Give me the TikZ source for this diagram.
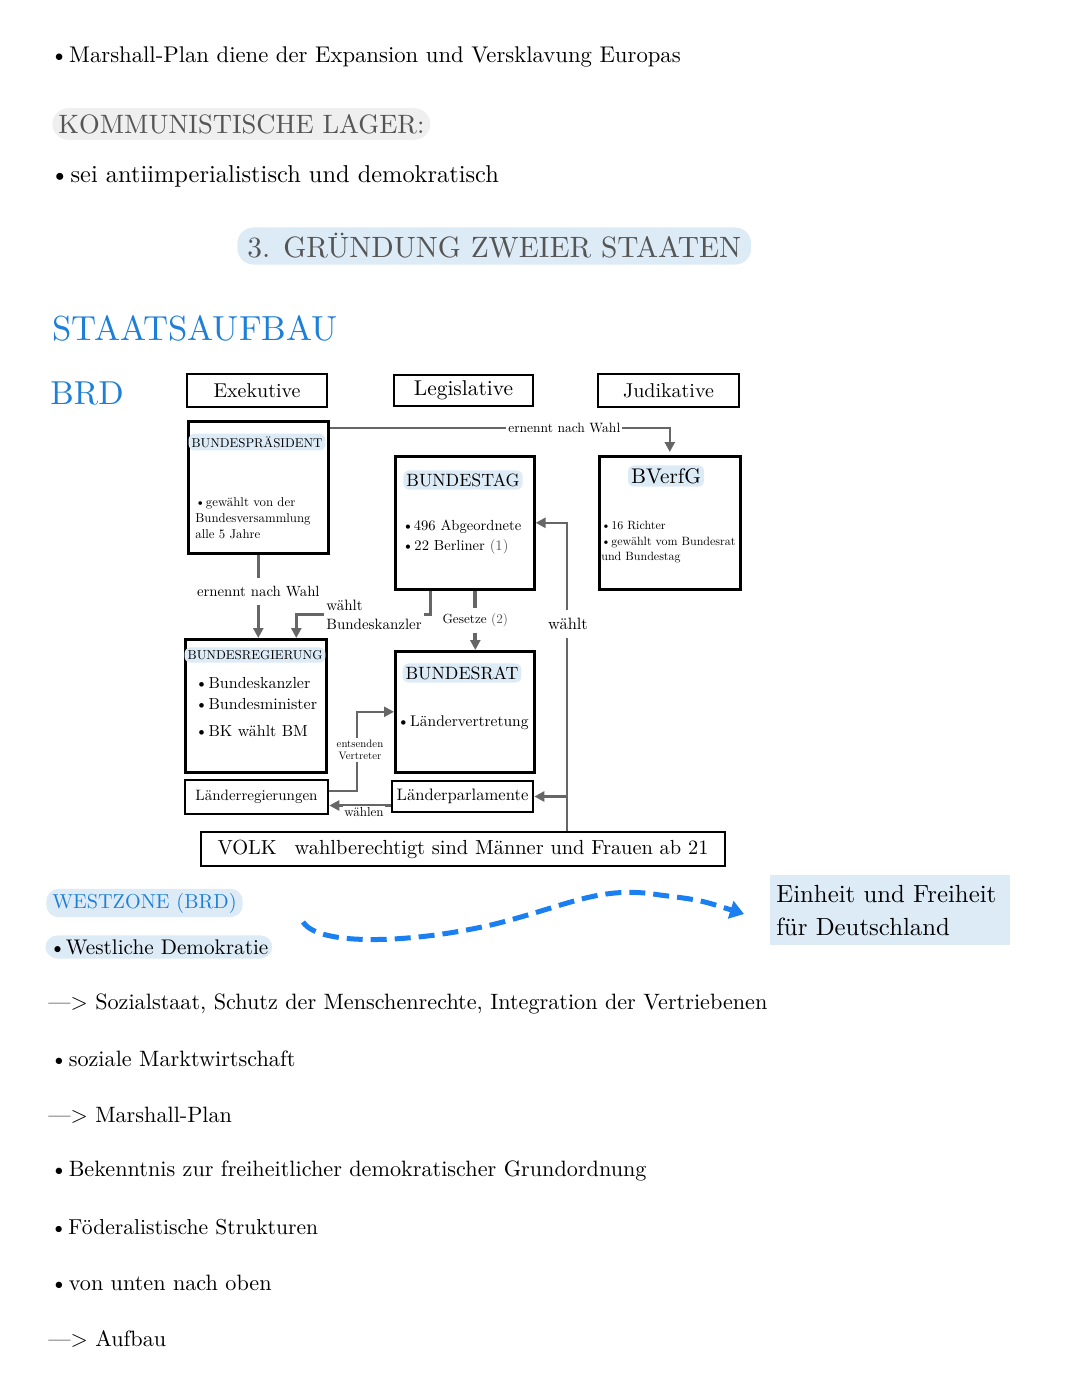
\documentclass[tikz,border=0pt]{standalone}
\usepackage{fontspec}
\setmainfont{lmroman10-regular.otf}
\usetikzlibrary{positioning, arrows.meta}
\definecolor{hlblue}{HTML}{DDEBF7}
\definecolor{hlgray}{HTML}{EFEFEF}
\definecolor{txtgray}{HTML}{555555}
\definecolor{headblue}{HTML}{1E7FD8}
\definecolor{linegray}{HTML}{666666}
\definecolor{dashblue}{HTML}{1A7FF0}
\newcommand{\fsz}[1]{\fontsize{#1}{#1}\selectfont}
\newcommand{\bul}{•\hspace{0.05em}}

\begin{document}
\begin{tikzpicture}[x=0.5pt, y=-0.5pt,
    hdr/.style={draw, line width=1.3pt, minimum width=70pt, minimum height=16.5pt,
                inner sep=0pt, font=\fsz{10}},
    organ/.style={draw, line width=1.3pt, inner sep=0pt, anchor=north west},
    ttl/.style={fill=hlblue, rounded corners=3pt, inner sep=1.5pt},
    body/.style={align=left, anchor=north west, inner sep=0pt},
    arr/.style={-{Triangle[length=5pt,width=5pt]}, draw=linegray, line width=1.3pt},
    lbl/.style={fill=white, inner sep=1pt},
    note/.style={anchor=west, inner sep=0pt, font=\fsz{11.1}},
    smallbox/.style={draw, line width=1.3pt, inner sep=0pt, font=\fsz{7.5}}
]
\useasboundingbox (0,0) rectangle (1080,1394);

% Text above the diagram
\node[note, font=\fsz{11.35}] (marshall) at (50,57) {\bul Marshall-Plan diene der Expansion und Versklavung Europas};
\node[anchor=west, fill=hlgray, rounded corners=8pt, inner xsep=3pt, inner ysep=3pt,
      text=txtgray, font=\fsz{13.3}] (komm) at (52,124) {KOMMUNISTISCHE LAGER:};
\node[note, font=\fsz{12.2}] (anti) at (50,176) {\bul sei antiimperialistisch und demokratisch};
\node[anchor=west, fill=hlblue, rounded corners=8pt, inner xsep=5pt, inner ysep=3pt,
      text=txtgray, font=\fsz{14.7}] (gruend) at (237,246) {3. GRÜNDUNG ZWEIER STAATEN};
\node[anchor=west, inner sep=0pt, text=headblue, font=\fsz{17.4}] (aufbau) at (52,328) {STAATSAUFBAU};
\node[anchor=west, inner sep=0pt, text=headblue, font=\fsz{16.6}] (brd) at (50,394) {BRD};

% Gewalten
\node[hdr] (exe) at (257,390.5) {Exekutive};
\node[hdr, minimum width=69.5pt, minimum height=15.5pt, font=\fsz{10.7}] (leg) at (463.5,390.5) {Legislative};
\node[hdr, minimum width=70.5pt] (jud) at (668.5,390.5) {Judikative};

% Organe
\node[organ, minimum width=70pt, minimum height=66pt] (bp) at (187,420) {};
\node[ttl, font=\fsz{6.4}] (bpT) at (257,442) {BUNDESPRÄSIDENT};
\node[body, font=\fontsize{6.4}{8}\selectfont] (bpB) at (195,497) {\bul gewählt von der\\Bundesversammlung\\alle 5 Jahre};

\node[organ, minimum width=69.5pt, minimum height=66.5pt] (bt) at (394,455) {};
\node[ttl, font=\fsz{8.9}] (btT) at (463,480) {BUNDESTAG};
\node[body, font=\fontsize{7.3}{10}\selectfont] (btB) at (402,520) {•496 Abgeordnete\\\bul 22 Berliner \textcolor{txtgray}{(1)}};

\node[organ, minimum width=70.5pt, minimum height=66.5pt] (bvg) at (598,455) {};
\node[ttl, font=\fsz{10.6}] (bvgT) at (666,476) {BVerfG};
\node[body, font=\fontsize{6}{7.8}\selectfont] (bvgB) at (601,521) {\bul 16 Richter\\\bul gewählt vom Bundesrat\\und Bundestag};

\node[organ, minimum width=70.5pt, minimum height=66.5pt] (breg) at (184,638) {};
\node[ttl, font=\fsz{6.45}] (bregT) at (255,655) {BUNDESREGIERUNG};
\node[body, font=\fontsize{8}{10.5}\selectfont] (bregB) at (195,677) {\bul Bundeskanzler\\\bul Bundesminister\\[3pt]\bul BK wählt BM};

\node[organ, minimum width=69.5pt, minimum height=60.5pt] (br) at (394,650) {};
\node[ttl, font=\fsz{8.9}] (brT) at (462,673) {BUNDESRAT};
\node[anchor=west, inner sep=0pt, font=\fsz{7.75}] (brB) at (397,723) {\bul Ländervertretung};

\node[smallbox, minimum width=71.5pt, minimum height=17pt] (lr) at (256.5,797) {Länderregierungen};
\node[smallbox, minimum width=70.5pt, minimum height=15.5pt, font=\fsz{8.3}] (lp) at (462.5,796.5) {Länderparlamente};
\node[smallbox, minimum width=262pt, minimum height=17pt, font=\fsz{10.2}] (volk) at (463,849)
     {VOLK\hspace{9pt}wahlberechtigt sind Männer und Frauen ab 21};

% Verbindungen
\draw[arr, shorten >=1.5pt] ([yshift=-4pt]bp.north east) -- node[lbl, pos=0.69, font=\fsz{6.75}]{ernennt nach Wahl}
     ([yshift=-4pt]bp.north east -| bvg.north) -- (bvg.north);
\draw[arr] (bp.south) -- node[lbl, pos=0.44, inner ysep=4pt, font=\fsz{7.4}]{ernennt nach Wahl} (bp.south |- breg.north);
\draw[arr] ([xshift=-17.25pt]bt.south) -- ++(0,24) -| ([xshift=20.25pt]breg.north);
\node[lbl, anchor=west, align=left, font=\fontsize{7.5}{9.5}\selectfont] (wbk) at (324,615) {wählt\\Bundeskanzler};
\draw[arr, line width=2pt] ([xshift=5.25pt]bt.south) -- node[lbl, inner ysep=3pt, font=\fsz{6.6}]{Gesetze \textcolor{txtgray}{(2)}}
     ([xshift=5.25pt]bt.south |- br.north);
\coordinate (wk) at ([xshift=52pt]volk.north);
\draw[arr] (wk) |- (bt.east);
\draw[arr] (wk |- lp.east) -- (lp.east);
\node[lbl, inner ysep=4pt, font=\fsz{8.2}] (wae) at (568,624) {wählt};
\coordinate (ev) at ([xshift=-18.5pt]br.west);
\draw[arr] ([yshift=3pt]lr.east) -| (ev) -- (br.west);
\node[lbl, align=center, font=\fontsize{5.4}{6.2}\selectfont] (entsend) at (360,750) {entsenden\\Vertreter};
\draw[arr] ([yshift=-4.5pt]lp.west) -- ([yshift=-4.5pt]lp.west -| lr.east);
\node[lbl, inner sep=0.5pt, font=\fsz{6.5}] (waehlen) at (364,812) {wählen};

% Westzone
\node[anchor=west, fill=hlblue, rounded corners=6pt, inner xsep=3pt, inner ysep=2pt,
      text=headblue, font=\fsz{10.1}] (west) at (46,903) {WESTZONE (BRD)};
\node[anchor=west, fill=hlblue, rounded corners=6pt, inner xsep=2pt, inner ysep=2pt,
      font=\fsz{10.6}] (demo) at (45,947) {•Westliche Demokratie};
\node[anchor=north west, fill=hlblue, minimum height=35pt, text width=114pt,
      align=left, inner xsep=3pt, font=\fontsize{12.4}{16.5}\selectfont] (einheit) at (770,875)
     {Einheit und Freiheit\\für Deutschland};
\coordinate (ws) at (303,922);
\coordinate (we) at (744,914);
\draw[dashblue, line width=2.5pt, dash pattern=on 8pt off 4pt, -{Triangle[length=7pt,width=9pt]}]
     (ws) .. controls (320,948) and (420,942) .. (495,924)
     .. controls (570,905) and (600,885) .. (660,895)
     .. controls (700,900) .. (we);

% Text below
\node[note] (sozial) at (48,1004) {—> Sozialstaat, Schutz der Menschenrechte, Integration der Vertriebenen};
\node[note] (markt) at (50,1059) {\bul soziale Marktwirtschaft};
\node[note] (mplan) at (48,1115) {—> Marshall-Plan};
\node[note] (bekennt) at (50,1171) {\bul Bekenntnis zur freiheitlicher demokratischer Grundordnung};
\node[note, font=\fsz{10.8}] (foed) at (50,1227) {\bul Föderalistische Strukturen};
\node[note] (unten) at (50,1283) {\bul von unten nach oben};
\node[note] (aufb) at (48,1339) {—> Aufbau};
\end{tikzpicture}
\end{document}
